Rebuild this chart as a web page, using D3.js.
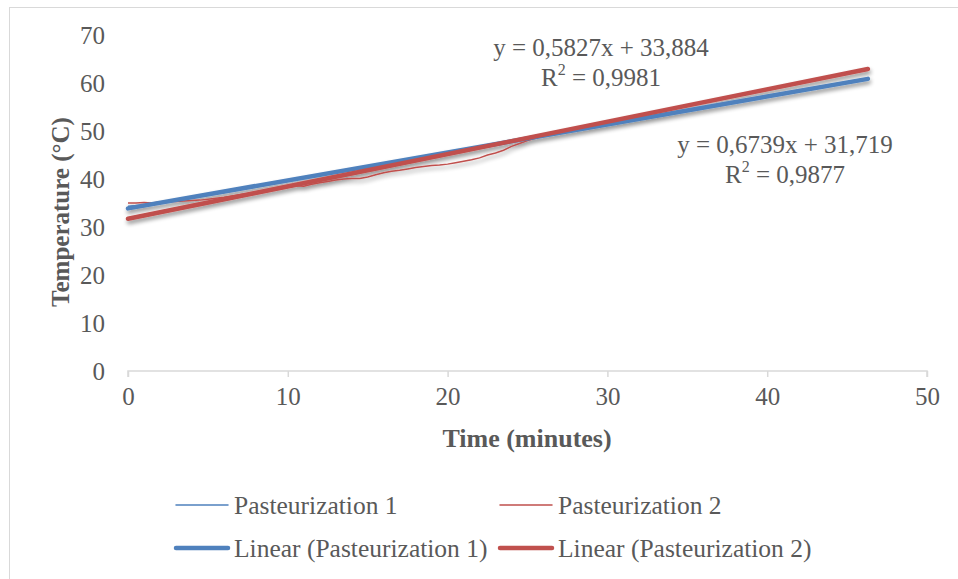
<!DOCTYPE html>
<html>
<head>
<meta charset="utf-8">
<script src="https://cdn.jsdelivr.net/npm/d3@7"></script>
<style>
  html, body { margin: 0; padding: 0; background: #fff; }
  svg { display: block; }
  text { font-family: "Liberation Serif", "DejaVu Serif", serif; fill: #595959; }
</style>
</head>
<body>
<svg id="chart" width="958" height="579"></svg>
<script>
// Time axis (minutes) and temperature readings (°C) for the two runs
const time1 = [0,1,2,3,4,5,6,7,8,9,10,11,12,13,14,15,16,17,18,19,20,21,22,23,24,25,26,27,28,29,30,31,32,33,34,35,36,37,38,39,40,41,42,43,44,45,46,46.3];
const temp1 = [34.3,34.6,35.1,35.7,36.3,36.7,37.2,37.8,38.4,39.0,39.6,40.2,40.8,41.4,42.0,42.6,43.2,43.8,44.4,45.0,45.6,46.2,46.8,47.3,47.9,48.5,49.1,49.6,50.2,50.8,51.3,51.9,52.5,53.1,53.7,54.3,54.9,55.5,56.0,56.6,57.2,57.8,58.3,58.9,59.5,60.0,60.6,60.8];

const time2 = [0,0.5,1,1.5,2,2.5,3,3.5,4,4.5,5,6,7,8,9,10,10.5,11,11.5,12,12.5,13,13.5,14,14.5,15,15.5,16,16.5,17,17.5,18,18.5,19,19.5,20,20.5,21,21.5,22,22.5,23,23.5,24,24.5,25,25.5,26,27,28,29,30,31,32,33,34,35,36,37,38,39,40,41,42,43,44,45,46,46.3];
const temp2 = [35.0,35.0,35.1,35.0,35.2,35.3,35.3,35.4,35.5,35.6,35.8,36.2,36.7,37.2,37.8,38.3,38.6,38.5,38.9,39.2,39.5,39.8,40.0,40.1,40.1,40.4,40.9,41.3,41.6,41.8,42.1,42.4,42.6,42.8,42.9,43.1,43.4,43.7,44.0,44.4,45.0,45.4,46.0,46.8,47.4,48.0,48.5,49.0,49.8,50.5,51.2,51.9,52.5,53.2,53.9,54.7,55.3,55.9,56.6,57.3,58.0,58.6,59.3,59.9,60.6,61.4,62.1,62.8,63.1];

// Linear trendline coefficients [slope, intercept, R²]
const fit1 = [0.5827, 33.884, 0.9981];
const fit2 = [0.6739, 31.719, 0.9877];

const xTicks = [0,10,20,30,40,50];
const yTicks = [0,10,20,30,40,50,60,70];

const seriesNames = ["Pasteurization 1", "Pasteurization 2"];
const trendNames = ["Linear (Pasteurization 1)", "Linear (Pasteurization 2)"];

const blue = "#4f81bd", red = "#c0504d", axisGray = "#d9d9d9";
const fmt = v => String(v).replace(".", ",");

const svg = d3.select("#chart");

// chart area border
svg.append("rect")
  .attr("x", 9.5).attr("y", 7.5)
  .attr("width", 960).attr("height", 590)
  .attr("fill", "#fff").attr("stroke", axisGray).attr("stroke-width", 1);

// soft shadow under the plotted lines
const defs = svg.append("defs");
const f = defs.append("filter").attr("id", "shadow")
  .attr("x", "-5%").attr("y", "-20%").attr("width", "110%").attr("height", "150%");
f.append("feGaussianBlur").attr("in", "SourceAlpha").attr("stdDeviation", 2.2).attr("result", "b");
f.append("feOffset").attr("in", "b").attr("dx", 1).attr("dy", 3).attr("result", "o");
f.append("feComponentTransfer").attr("in", "o").attr("result", "s")
  .append("feFuncA").attr("type", "linear").attr("slope", 0.42);
const m = f.append("feMerge");
m.append("feMergeNode").attr("in", "s");
m.append("feMergeNode").attr("in", "SourceGraphic");

const x = d3.scaleLinear().domain([0, 50]).range([128, 927]);
const y = d3.scaleLinear().domain([0, 70]).range([371, 35]);

// x axis: light line with downward ticks
const xAxis = svg.append("g").attr("transform", `translate(0,${y(0)})`)
  .call(d3.axisBottom(x).tickValues(xTicks).tickSize(6).tickPadding(10).tickFormat(d => d));
xAxis.select(".domain").attr("stroke", axisGray).attr("stroke-width", 1.5)
  .attr("d", `M${x(0)},0V6V0H${x(50)}V6`);
xAxis.selectAll(".tick line").attr("stroke", axisGray).attr("stroke-width", 1.5);
xAxis.selectAll(".tick text").attr("font-size", 25).attr("fill", "#595959")
  .attr("font-family", "Liberation Serif, serif");

// y axis: labels only
const yAxis = svg.append("g").attr("transform", `translate(${x(0)},0)`)
  .call(d3.axisLeft(y).tickValues(yTicks).tickSize(0).tickPadding(23).tickFormat(d => d));
yAxis.select(".domain").remove();
yAxis.selectAll(".tick text").attr("font-size", 25).attr("fill", "#595959")
  .attr("font-family", "Liberation Serif, serif");

// axis titles
svg.append("text").attr("x", 527).attr("y", 438)
  .attr("text-anchor", "middle").attr("dominant-baseline", "central")
  .attr("font-size", 26).attr("font-weight", "bold").text("Time (minutes)");
svg.append("text").attr("transform", "translate(60,212) rotate(-90)")
  .attr("text-anchor", "middle").attr("dominant-baseline", "central")
  .attr("font-size", 25).attr("font-weight", "bold").text("Temperature (°C)");

const line = d3.line().x(d => x(d[0])).y(d => y(d[1]));
const plot = svg.append("g").attr("filter", "url(#shadow)");

const raw1 = time1.map((t, i) => [t, temp1[i]]);
const raw2 = time2.map((t, i) => [t, temp2[i]]);

const trend = (c, xs) => [[0, c[1]], [d3.max(xs), c[0] * d3.max(xs) + c[1]]];

plot.append("path").datum(raw1).attr("d", line)
  .attr("fill", "none").attr("stroke", blue).attr("stroke-width", 1.5);
plot.append("path").datum(raw2).attr("d", line)
  .attr("fill", "none").attr("stroke", red).attr("stroke-width", 1.5);
plot.append("path").datum(trend(fit1, time1)).attr("d", line)
  .attr("fill", "none").attr("stroke", blue).attr("stroke-width", 4.5).attr("stroke-linecap", "round");
plot.append("path").datum(trend(fit2, time2)).attr("d", line)
  .attr("fill", "none").attr("stroke", red).attr("stroke-width", 4.5).attr("stroke-linecap", "round");

// trendline equations
function equation(c, cx, cy) {
  const g = svg.append("g");
  g.append("text").attr("x", cx).attr("y", cy)
    .attr("text-anchor", "middle").attr("dominant-baseline", "central").attr("font-size", 25)
    .text(`y = ${fmt(c[0])}x + ${fmt(c[1])}`);
  const r = g.append("text").attr("x", cx).attr("y", cy + 30)
    .attr("text-anchor", "middle").attr("dominant-baseline", "central").attr("font-size", 25);
  r.append("tspan").text("R");
  r.append("tspan").attr("font-size", 16).attr("dy", -8).text("2");
  r.append("tspan").attr("dy", 8).text(` = ${fmt(c[2])}`);
}
equation(fit1, 601, 47);
equation(fit2, 785, 144);

// legend
const legend = [
  { name: seriesNames[0], color: blue, w: 1.5, x: 176, y: 505 },
  { name: seriesNames[1], color: red, w: 1.5, x: 500, y: 505 },
  { name: trendNames[0], color: blue, w: 4.5, x: 176, y: 548 },
  { name: trendNames[1], color: red, w: 4.5, x: 500, y: 548 }
];
const lg = svg.append("g").selectAll("g").data(legend).join("g")
  .attr("transform", d => `translate(${d.x},${d.y})`);
lg.append("line").attr("x1", 0).attr("x2", 52).attr("y1", 0).attr("y2", 0)
  .attr("stroke", d => d.color).attr("stroke-width", d => d.w).attr("stroke-linecap", "round");
lg.append("text").attr("x", 58).attr("y", 0).attr("dominant-baseline", "central")
  .attr("font-size", 25.5).text(d => d.name);
</script>
</body>
</html>
